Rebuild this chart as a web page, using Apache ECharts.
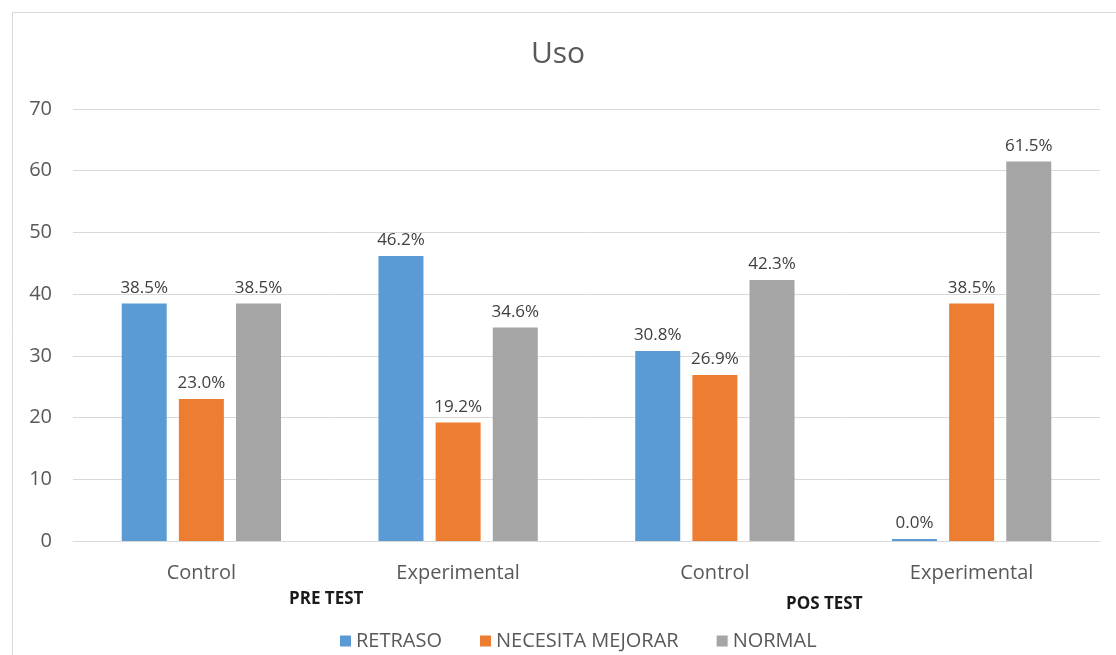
<!DOCTYPE html>
<html>
<head>
<meta charset="utf-8">
<script src="https://cdn.jsdelivr.net/npm/echarts@6/dist/echarts.min.js"></script>
<style>
html,body{margin:0;padding:0;background:#fff;}
#main{width:1116px;height:655px;}
</style>
</head>
<body>
<div id="main"></div>
<script>
// datos del grafico
var categorias = ['Control', 'Experimental', 'Control', 'Experimental'];
var grupos = ['PRE TEST', 'POS TEST'];
var retraso = [38.5, 46.2, 30.8, 0.0];
var necesitaMejorar = [23.0, 19.2, 26.9, 38.5];
var normal = [38.5, 34.6, 42.3, 61.5];
var yTicks = [0, 10, 20, 30, 40, 50, 60, 70];

var fuente = '"Open Sans"';

function serie(nombre, datos, color) {
    return {
        name: nombre,
        type: 'bar',
        barWidth: 45,
        barGap: '27%',
        barMinHeight: 2,   //para que se vea la barra de 0.0%
        data: datos,
        itemStyle: {color: color},
        label: {
            show: true,
            position: 'top',
            distance: 7,
            color: '#404040',
            fontSize: 17,
            fontFamily: fuente,
            formatter: function (p) { return p.value.toFixed(1) + '%'; }
        }
    };
}

var option = {
    backgroundColor: '#fff',
    animation: false,
    title: {
        text: 'Uso',
        left: 'center',
        top: 34,
        textStyle: {fontSize: 30, fontWeight: 'normal', color: '#595959', fontFamily: fuente}
    },
    grid: {left: 73, right: 16, top: 109, bottom: 114},   //posicion del area
    legend: {
        icon: 'rect',
        itemWidth: 11, itemHeight: 11, itemGap: 38,
        left: 335, top: 626,
        textStyle: {fontSize: 20, color: '#595959', fontFamily: fuente},
        data: ['RETRASO', 'NECESITA MEJORAR', 'NORMAL']
    },
    xAxis: {
        type: 'category',
        data: categorias,
        axisTick: {show: false},
        axisLine: {lineStyle: {color: '#d9d9d9', width: 1}},
        axisLabel: {fontSize: 20, color: '#595959', margin: 22, fontFamily: fuente}
    },
    yAxis: {
        type: 'value',
        min: yTicks[0],
        max: yTicks[yTicks.length - 1],
        interval: 10,
        axisLine: {show: false},
        axisTick: {show: false},
        axisLabel: {fontSize: 20, color: '#595959', margin: 21, fontFamily: fuente},
        splitLine: {lineStyle: {color: '#d9d9d9', width: 1}}
    },
    graphic: [
        {
            type: 'rect',
            shape: {x: 12.5, y: 12.5, width: 1120, height: 700},
            style: {fill: 'none', stroke: '#d9d9d9', lineWidth: 1},
            silent: true
        },
        {
            type: 'text', left: 289, top: 591,
            style: {text: grupos[0], font: 'bold 17px ' + fuente, fill: '#1a1a1a'}
        },
        {
            type: 'text', left: 786, top: 596,
            style: {text: grupos[1], font: 'bold 17px ' + fuente, fill: '#1a1a1a'}
        }
    ],
    series: [
        serie('RETRASO', retraso, '#5b9bd5'),
        serie('NECESITA MEJORAR', necesitaMejorar, '#ed7d31'),
        serie('NORMAL', normal, '#a5a5a5')
    ]
};

var myChart = echarts.init(document.getElementById('main'));
myChart.setOption(option);
</script>
</body>
</html>
